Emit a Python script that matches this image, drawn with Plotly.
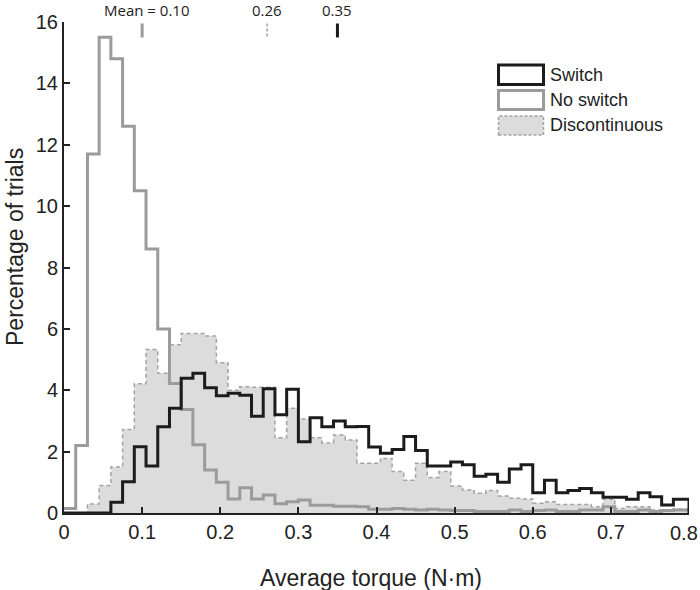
import plotly.graph_objects as go

# ---------------- data ----------------
bin_width = 0.015
x_max = 0.8

switch_pct = [0, 0, 0, 0, 0.35, 1.02, 2.16, 1.53, 2.81, 3.41, 4.39, 4.55, 4.08, 3.82,
              3.9, 3.84, 3.15, 4.05, 3.2, 4.03, 2.32, 3.1, 2.81, 3.0, 2.81, 2.82, 2.15,
              1.95, 2.07, 2.49, 2.04, 1.53, 1.53, 1.66, 1.57, 1.2, 1.26, 1.0, 1.43, 1.57,
              0.66, 1.07, 0.66, 0.73, 0.8, 0.66, 0.51, 0.51, 0.45, 0.66, 0.53, 0.26, 0.45]

noswitch_pct = [0.15, 2.2, 11.7, 15.5, 14.8, 12.6, 10.5, 8.6, 6.0, 4.22, 3.37, 2.22, 1.4,
                1.0, 0.46, 0.82, 0.46, 0.59, 0.3, 0.37, 0.42, 0.25, 0.25, 0.22, 0.22, 0.2,
                0.12, 0.12, 0.15, 0.12, 0.1, 0.12, 0.1, 0.08, 0.08, 0.05, 0.05, 0.05, 0.1,
                0.05, 0.08, 0.1, 0.05, 0.05, 0.1, 0.1, 0.2, 0.05, 0.05, 0.1, 0.05, 0.08, 0.1]

discont_pct = [0, 0, 0.29, 0.9, 1.5, 2.72, 4.21, 5.33, 4.55, 5.48, 5.85, 5.85, 5.77, 4.9,
               4.0, 4.11, 4.1, 4.1, 2.45, 3.41, 3.06, 2.45, 2.28, 2.54, 2.38, 1.62, 1.62,
               1.78, 1.35, 1.07, 1.62, 1.16, 1.35, 0.88, 0.75, 0.64, 0.73, 0.55, 0.48, 0.46,
               0.32, 0.37, 0.28, 0.28, 0.28, 0.2, 0.45, 0.15, 0.2, 0.2, 0.1, 0.1, 0.13]

mean_values = [0.10, 0.26, 0.35]
mean_labels = ["Mean = 0.10", "0.26", "0.35"]

x_ticks = [0, 0.1, 0.2, 0.3, 0.4, 0.5, 0.6, 0.7, 0.8]
x_tick_labels = ["0", "0.1", "0.2", "0.3", "0.4", "0.5", "0.6", "0.7", "0.8"]
y_ticks = [0, 2, 4, 6, 8, 10, 12, 14, 16]

series_names = ["Switch", "No switch", "Discontinuous"]
x_title = "Average torque (N·m)"
y_title = "Percentage of trials"

# ---------------- helpers ----------------
n_bins = len(switch_pct)
edges = [round(i * bin_width, 4) for i in range(n_bins)] + [x_max]


def steps(vals):
    xs = edges + [x_max]
    ys = list(vals) + [vals[-1], 0]
    return xs, ys


BLACK = "#1c1c1c"
GRAY = "#9b9b9b"
DGRAY = "#a3a3a3"
FILL = "#dcdcdd"
FONT = "Liberation Sans, Arial, sans-serif"
TICK_SIZE = 20

fig = go.Figure()

xs, ys = steps(discont_pct)
fig.add_trace(go.Scatter(x=xs, y=ys, mode="lines", line=dict(shape="hv", color=DGRAY, width=1.5, dash="4px,3px"),
                         fill="tozeroy", fillcolor=FILL, name=series_names[2], showlegend=False))
xs, ys = steps(noswitch_pct)
fig.add_trace(go.Scatter(x=xs, y=ys, mode="lines", line=dict(shape="hv", color=GRAY, width=3),
                         name=series_names[1], showlegend=False))
xs, ys = steps(switch_pct)
fig.add_trace(go.Scatter(x=xs, y=ys, mode="lines", line=dict(shape="hv", color=BLACK, width=3),
                         name=series_names[0], showlegend=False))

W, H = 700, 590
# plot area in window pixels: x 64..689, y 22..513
PX0, PX1, PY0, PY1 = 64, 689, 22, 513
L, R, T, B = PX0, W - PX1, PY0, H - PY1
pw, ph = PX1 - PX0, PY1 - PY0


def px(xp):  # window pixel -> paper
    return (xp - PX0) / pw


def py(yp):
    return (PY1 - yp) / ph


shapes = []
annotations = []

# mean markers
mean_styles = [dict(color=GRAY, width=3, dash="solid"),
               dict(color=DGRAY, width=1.5, dash="3px,2px"),
               dict(color=BLACK, width=3, dash="solid")]
for v, lab, st in zip(mean_values, mean_labels, mean_styles):
    shapes.append(dict(type="line", xref="x", yref="paper", x0=v, x1=v, y0=py(23.5), y1=py(37.5),
                       line=st))
    annotations.append(dict(x=v, y=py(10), xref="x", yref="paper", text=lab, showarrow=False,
                            xanchor="center", yanchor="middle",
                            xshift=5 if lab.startswith("Mean") else 0,
                            font=dict(family="Open Sans", size=15, color="#222")))

# custom legend
leg_rows = [(65, 84.5, BLACK, 3, "solid", "white"),
            (90.5, 109.5, GRAY, 3, "solid", "white"),
            (116, 135, DGRAY, 1.5, "3px,2px", FILL)]
for (y0, y1, col, wdt, dsh, fc), name in zip(leg_rows, series_names):
    shapes.append(dict(type="rect", xref="paper", yref="paper", x0=px(498.5), x1=px(543.5),
                       y0=py(y1), y1=py(y0), line=dict(color=col, width=wdt, dash=dsh), fillcolor=fc))
    annotations.append(dict(x=px(548), y=py((y0 + y1) / 2), xref="paper", yref="paper", text=name,
                            showarrow=False, xanchor="left", yanchor="middle",
                            font=dict(family=FONT, size=18, color="#222")))

# the last x tick label sits at the window edge: draw it as text ending at the edge
tick_text_shown = x_tick_labels[:-1] + [""]
annotations.append(dict(x=px(700), y=0, xref="paper", yref="paper", text=x_tick_labels[-1],
                        showarrow=False, xanchor="right", yanchor="top", yshift=-7,
                        font=dict(family=FONT, size=TICK_SIZE, color="#222")))

# axis titles
annotations.append(dict(x=px(371), y=py(578), xref="paper", yref="paper", text=x_title, showarrow=False,
                        xanchor="center", yanchor="middle", font=dict(family=FONT, size=23, color="#222")))
annotations.append(dict(x=px(15), y=py(247), xref="paper", yref="paper", text=y_title, showarrow=False,
                        textangle=-90, xanchor="center", yanchor="middle",
                        font=dict(family=FONT, size=23, color="#222")))

fig.update_layout(
    width=W, height=H,
    margin=dict(l=L, r=R, t=T, b=B, autoexpand=False),
    paper_bgcolor="white", plot_bgcolor="white",
    font=dict(family=FONT, color="#222"),
    shapes=shapes, annotations=annotations,
    showlegend=False,
    xaxis=dict(range=[0, x_max], tickvals=x_ticks, ticktext=tick_text_shown, ticks="inside", ticklen=6,
               tickwidth=1.5, tickcolor="#222", showline=True, linecolor="#222", linewidth=2,
               showgrid=False, zeroline=False, tickfont=dict(family=FONT, size=TICK_SIZE),
               automargin=False, ticklabeloverflow="allow"),
    yaxis=dict(range=[0, 16], tickvals=y_ticks, ticks="inside", ticklen=6, tickwidth=1.5,
               tickcolor="#222", showline=True, linecolor="#222", linewidth=2, showgrid=False,
               zeroline=False, tickfont=dict(family=FONT, size=TICK_SIZE),
               automargin=False, ticklabeloverflow="allow"),
)

# remove the default 8px page margin so the figure fills the 700x590 window exactly
fig.write_html("out.html", config={"displayModeBar": False},
               post_script="document.body.style.margin='0';")
